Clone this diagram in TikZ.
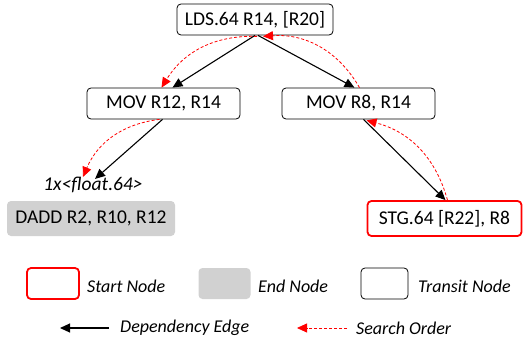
\documentclass[tikz,border=0pt]{standalone}
\usepackage{fontspec}
\setmainfont{Carlito}
\usetikzlibrary{arrows.meta}
\begin{document}
\begin{tikzpicture}[x=1pt,y=-1pt,
  tbox/.style={draw=black,line width=0.8pt,rounded corners=4pt,inner sep=0pt,align=center,font=\fontsize{19.5}{22}\selectfont},
  startbox/.style={tbox,draw=red,line width=1.8pt},
  endbox/.style={tbox,draw=none,fill=black!18},
  dep/.style={line width=1.1pt,-{Triangle[length=10pt,width=9pt]}},
  srch/.style={red,dashed,dash pattern=on 3pt off 2pt,line width=0.8pt,-{Triangle[length=10pt,width=9pt]}},
  leg/.style={font=\fontsize{18}{20}\selectfont\itshape,anchor=west,inner sep=0pt}]
\useasboundingbox (0,0) rectangle (530,345);
% nodes
\node[tbox,minimum width=156pt,minimum height=31pt] (lds) at (255,19.5) {LDS.64 R14, [R20]};
\node[tbox,minimum width=153pt,minimum height=31pt] (m12) at (163.5,103.5) {MOV R12, R14};
\node[tbox,minimum width=153pt,minimum height=31pt] (m8) at (358.5,103.5) {MOV R8, R14};
\node[font=\fontsize{19.5}{22}\selectfont\itshape,inner sep=1pt] (fl) at (93,185) {1x<float.64>};
\node[endbox,minimum width=168pt,minimum height=35pt] (dadd) at (91,218.5) {DADD R2, R10, R12};
\node[startbox,minimum width=154pt,minimum height=35pt] (stg) at (444.5,218.5) {STG.64 [R22], R8};
% dependency edges
\draw[dep] ([xshift=0pt]lds.south) -- ([xshift=9pt]m12.north);
\draw[dep] ([xshift=3pt]lds.south) -- ([xshift=-4pt]m8.north);
\draw[dep] ([xshift=-1pt]m12.south) -- ([xshift=2pt,yshift=-3pt]fl.north);
\draw[dep] ([xshift=5pt]m8.south) -- ([xshift=1pt]stg.north);
% search order
\draw[srch] ([xshift=3pt]stg.north) to[bend right=30] ([xshift=8pt,yshift=-1pt]m8.south);
\draw[srch] ([xshift=1pt]m8.north) to[bend right=32] ([xshift=8pt,yshift=-1pt]lds.south);
\draw[srch] ([xshift=2pt,yshift=-1pt]lds.south) to[bend right=30] ([xshift=-2pt]m12.north);
\draw[srch] ([xshift=-4pt]m12.south) to[bend right=30] ([xshift=-10pt,yshift=-1pt]fl.north);
% legend
\node[startbox,minimum width=52pt,minimum height=31pt] (ls) at (53,283.5) {};
\node[leg] (lst) at (87,286) {Start Node};
\node[endbox,minimum width=52pt,minimum height=31pt] (le) at (224.5,283.5) {};
\node[leg] (let) at (258,286) {End Node};
\node[tbox,minimum width=47pt,minimum height=31pt] (lt) at (384.5,283.5) {};
\node[leg] (ltt) at (418,286) {Transit Node};
\coordinate (da) at (109,328);
\coordinate (db) at (60,328);
\draw[dep] (da) -- (db);
\node[leg] (dt) at (120,328) {Dependency Edge};
\coordinate (sa) at (347,328);
\coordinate (sb) at (297,328);
\draw[srch] (sa) -- (sb);
\node[leg] (st) at (356,328) {Search Order};
\end{tikzpicture}
\end{document}
